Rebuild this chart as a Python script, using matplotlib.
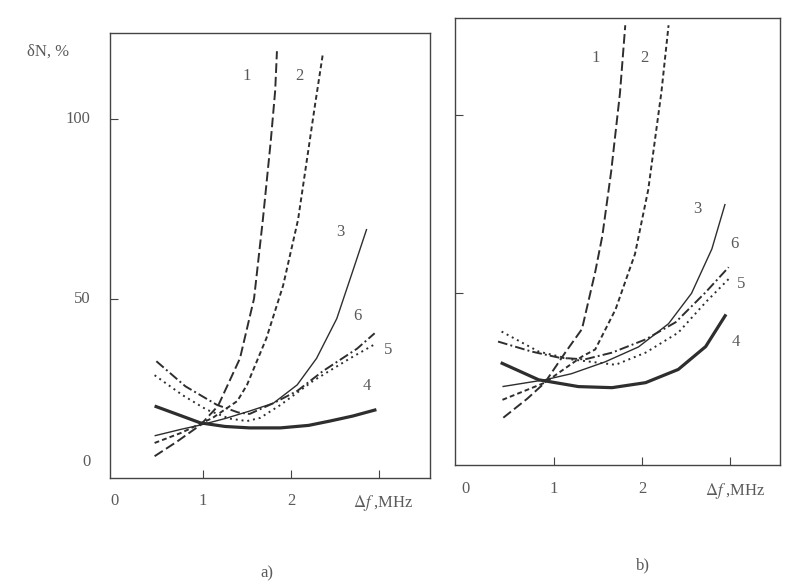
#!/usr/bin/env python3
"""Noise-figure error dN vs bandwidth df, panels a) and b)."""

import matplotlib.pyplot as plt

plt.rcParams["font.family"] = ["Liberation Serif", "DejaVu Serif"]
plt.rcParams["mathtext.fontset"] = "stix"

# ---- panel a) -------------------------------------------------------------
A_X1 = [0.45, 0.7, 0.97, 1.17, 1.42, 1.58, 1.68, 1.77, 1.82, 1.84]
A_Y1 = [6, 10, 14.7, 20, 33.3, 50, 72, 94, 108, 119]
A_X2 = [0.45, 0.75, 1.11, 1.39, 1.5, 1.72, 1.91, 2.08, 2.27, 2.36]
A_Y2 = [9.7, 12.5, 16.7, 21.4, 25.9, 38.9, 53.6, 72, 103.6, 118]
A_X3 = [0.45, 0.75, 0.97, 1.25, 1.53, 1.8, 2.07, 2.29, 2.52, 2.71, 2.86]
A_Y3 = [11.7, 13.5, 14.7, 16.5, 18.6, 20.8, 25.9, 33.3, 44.4, 58.3, 69.4]
A_X4 = [0.45, 0.75, 0.97, 1.25, 1.53, 1.88, 2.2, 2.44, 2.7, 2.97]
A_Y4 = [20, 17.3, 15.3, 14.3, 13.9, 13.9, 14.6, 15.8, 17.2, 19]
A_X5 = [0.45, 0.77, 1.04, 1.3, 1.5, 1.65, 1.88, 2.25, 2.67, 2.97]
A_Y5 = [28.6, 23, 19, 16.5, 15.8, 16.7, 20.3, 27, 33.3, 37.5]
A_X6 = [0.47, 0.8, 1.16, 1.4, 1.53, 1.8, 2.07, 2.36, 2.75, 2.95]
A_Y6 = [32.5, 25.5, 20.3, 18.2, 17.8, 20.8, 24.2, 29.7, 36, 40.3]

# ---- panel b) -------------------------------------------------------------
B_X1 = [0.43, 0.7, 0.9, 1.13, 1.32, 1.47, 1.55, 1.65, 1.75, 1.81]
B_Y1 = [15.2, 20.5, 25, 33.4, 40, 56, 66, 84, 106, 125]
B_X2 = [0.42, 0.7, 0.9, 1.1, 1.32, 1.47, 1.7, 1.92, 2.07, 2.22, 2.3]
B_Y2 = [20.2, 23, 25, 28.5, 32.3, 34.3, 45.5, 61, 79, 106.5, 125]
B_X3 = [0.42, 0.9, 1.2, 1.58, 1.96, 2.3, 2.56, 2.79, 2.94]
B_Y3 = [23.9, 25.8, 27.5, 30.8, 35, 41.5, 50, 62.4, 75]
B_X4 = [0.40, 0.83, 1.28, 1.66, 2.04, 2.41, 2.72, 2.95]
B_Y4 = [30.6, 25.8, 23.9, 23.6, 25, 28.7, 35.1, 44.1]
B_X5 = [0.41, 0.83, 1.2, 1.7, 2.04, 2.41, 2.72, 3.0]
B_Y5 = [39.3, 33.7, 31.5, 30, 33.4, 39, 47.5, 54.5]
B_X6 = [0.37, 0.75, 1.06, 1.35, 1.66, 2.04, 2.38, 2.72, 2.98]
B_Y6 = [36.5, 33.7, 32, 31.5, 33.4, 37.1, 41.9, 50.3, 57.3]

CURVE_NAMES = ["1", "2", "3", "4", "5", "6"]
A_LABEL_POS = [(1.5, 112), (2.1, 112), (2.56, 68.6), (2.86, 25.5), (3.1, 35.5), (2.76, 45)]
B_LABEL_POS = [(1.47, 115.7), (2.03, 115.7), (2.63, 73.6), (3.06, 36.5), (3.12, 52.5), (3.05, 63.8)]

LINE_C = "#2e2e2e"
TEXT_C = "#5a5a5a"
STYLES = [
    dict(ls=(0, (5, 2)), lw=1.4),
    dict(ls=(0, (2.5, 1.6)), lw=1.4),
    dict(ls="-", lw=1.0),
    dict(ls="-", lw=2.3),
    dict(ls=(0, (1, 2)), lw=1.4),
    dict(ls=(0, (5, 1.6, 1, 1.6)), lw=1.4),
]


def draw_panel(ax, curves, label_pos, xlim, ylim):
    for (x, y), st in zip(curves, STYLES):
        ax.plot(x, y, color=LINE_C, solid_capstyle="butt",
                solid_joinstyle="round", dash_joinstyle="round", **st)
    for name, (lx, ly) in zip(CURVE_NAMES, label_pos):
        ax.text(lx, ly, name, color=TEXT_C, fontsize=12, ha="center", va="center")
    ax.set_xlim(*xlim)
    ax.set_ylim(*ylim)
    for s in ax.spines.values():
        s.set_color("#444444")
        s.set_linewidth(1.0)
    ax.set_xticks([1, 2, 3])
    ax.set_xticklabels([])
    ax.tick_params(direction="in", length=6, color="#444444", labelcolor=TEXT_C)
    ax.set_yticks([50, 100])
    ax.set_yticklabels([])
    # x tick labels written as text so "0" sits under the corner
    for v in (0, 1, 2):
        ax.text(v, -0.035, str(v), transform=ax.get_xaxis_transform(),
                ha="center", va="top", fontsize=12, color=TEXT_C)
    ax.text(3.05, -0.035, r"$\Delta f$ ,MHz", transform=ax.get_xaxis_transform(),
            ha="center", va="top", fontsize=12, color=TEXT_C)


fig = plt.figure(figsize=(7.95, 5.84), dpi=100)
ax_a = fig.add_axes([0.138, 0.182, 0.403, 0.761])
ax_b = fig.add_axes([0.572, 0.204, 0.409, 0.765])

draw_panel(ax_a,
           [(A_X1, A_Y1), (A_X2, A_Y2), (A_X3, A_Y3), (A_X4, A_Y4), (A_X5, A_Y5), (A_X6, A_Y6)],
           A_LABEL_POS, (-0.06, 3.58), (0, 124))
draw_panel(ax_b,
           [(B_X1, B_Y1), (B_X2, B_Y2), (B_X3, B_Y3), (B_X4, B_Y4), (B_X5, B_Y5), (B_X6, B_Y6)],
           B_LABEL_POS, (-0.12, 3.56), (2, 127))

# y labels only on panel a)
for v, yy in ((100, 100), (50, 50), (0, 4.5)):
    ax_a.text(-0.06, yy, str(v), transform=ax_a.get_yaxis_transform(),
              ha="right", va="center", fontsize=12, color=TEXT_C)
fig.text(0.06, 1 - 52 / 584, "δN, %", ha="center", va="center", fontsize=12, color=TEXT_C)

fig.text(267 / 795, 1 - 573 / 584, "a)", ha="center", va="center", fontsize=12, color=TEXT_C)
fig.text(643 / 795, 1 - 565 / 584, "b)", ha="center", va="center", fontsize=12, color=TEXT_C)

fig.savefig("out.png", dpi=100)
